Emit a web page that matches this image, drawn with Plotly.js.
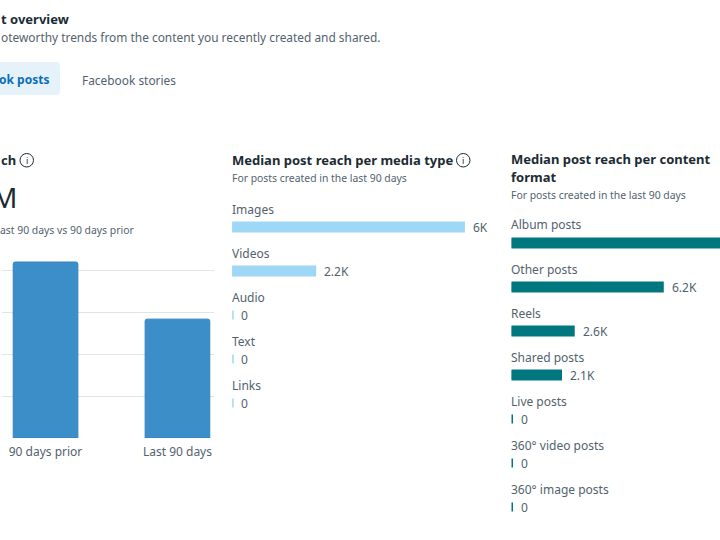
<!DOCTYPE html>
<html><head><meta charset="utf-8">
<script src="https://cdn.plot.ly/plotly-3.0.1.min.js"></script>
<style>html,body{margin:0;padding:0;background:#fff;overflow:hidden}</style>
</head><body><div id="chart" style="width:720px;height:540px"></div>
<script>
const periodCats = ['90 days prior', 'Last 90 days'];
const periodVals = [4.19, 2.83];
const mediaCats = ['Images', 'Videos', 'Audio', 'Text', 'Links'];
const mediaVals = [6, 2.15, 0, 0, 0];
const mediaLabels = ['6K', '2.2K', '0', '0', '0'];
const formatCats = ['Album posts', 'Other posts', 'Reels', 'Shared posts', 'Live posts', '360° video posts', '360° image posts'];
const formatVals = [9.5, 6.2, 2.55, 2.03, 0, 0, 0];
const formatLabels = ['', '6.2K', '2.6K', '2.1K', '0', '0', '0'];

const FONT = '"Noto Sans", "Open Sans", sans-serif';
const DARK = '#1c2b33', GREY = '#52626e', BLUE = '#3b8ec8', LIGHT = '#9fd7f7', TEAL = '#00777e';
const W = 720, H = 540;
const px = x => x / W, py = y => 1 - y / H;

function txt(x, y, text, size, color, bold, extra) {
  return Object.assign({
    xref: 'paper', yref: 'paper', x: px(x), y: py(y), text: bold ? '<b>' + text + '</b>' : text,
    showarrow: false, xanchor: 'left', yanchor: 'middle', borderpad: 0,
    font: { family: FONT, size: size, color: color }
  }, extra || {});
}
function rowAnns(xa, ya, cats, vals, labels) {
  const out = [];
  cats.forEach((c, i) => {
    out.push({ xref: xa, yref: ya, x: 0, y: c, text: c, showarrow: false, xanchor: 'left', yanchor: 'middle',
      xshift: -1.5, yshift: 18, borderpad: 0, font: { family: FONT, size: 12, color: GREY } });
    if (labels[i]) out.push({ xref: xa, yref: ya, x: vals[i], y: c, text: labels[i], showarrow: false, xanchor: 'left', yanchor: 'middle',
      xshift: 8, borderpad: 0, font: { family: FONT, size: 12, color: GREY } });
  });
  return out;
}
const hBar = (cats, vals, color, xa, ya) => ({
  type: 'bar', orientation: 'h', y: cats, x: vals, xaxis: xa, yaxis: ya, width: 0.2,
  marker: { color: color, line: { color: color, width: vals.map(v => v === 0 ? 3 : 2) } },
  hoverinfo: 'skip', cliponaxis: true
});
const hidden = { showgrid: false, zeroline: false, showticklabels: false, ticks: '', showline: false, fixedrange: true };

const data = [
  { type: 'bar', x: periodCats, y: periodVals, xaxis: 'x', yaxis: 'y', width: 0.49,
    marker: { color: BLUE, line: { color: '#2f85c0', width: 1 }, cornerradius: 2 }, hoverinfo: 'skip' },
  hBar(mediaCats, mediaVals, LIGHT, 'x2', 'y2'),
  hBar(formatCats, formatVals, TEAL, 'x3', 'y3')
];

const layout = {
  width: W, height: H, autosize: false, showlegend: false,
  margin: { l: 0, r: 0, t: 0, b: 0, pad: 0 }, paper_bgcolor: '#fff', plot_bgcolor: 'rgba(0,0,0,0)',
  xaxis: { type: 'category', domain: [px(2), px(214)], range: [-0.33, 1.277], showgrid: false, zeroline: false, showline: false,
    ticks: 'outside', ticklen: 3, tickcolor: 'rgba(0,0,0,0)', tickfont: { family: FONT, size: 12, color: GREY }, fixedrange: true },
  yaxis: { domain: [py(438), py(258)], range: [0, 4.2857], dtick: 1, tick0: 0, gridcolor: '#e2e3e4', gridwidth: 1, zeroline: false,
    showticklabels: false, ticks: '', showline: false, fixedrange: true },
  xaxis2: Object.assign({ domain: [px(232.2), px(500)], range: [0, 6.935], anchor: 'y2' }, hidden),
  yaxis2: Object.assign({ type: 'category', domain: [py(425), py(205)], range: [4.5, -0.5], anchor: 'x2' }, hidden),
  xaxis3: Object.assign({ domain: [px(511.5), 1], range: [0, 8.545], anchor: 'y3' }, hidden),
  yaxis3: Object.assign({ type: 'category', domain: [py(529), py(221)], range: [6.5, -0.5], anchor: 'x3' }, hidden),
  shapes: [
    { type: 'path', xref: 'paper', yref: 'paper', layer: 'below', fillcolor: '#e6f2fa', line: { width: 0 },
      path: `M ${px(-10)} ${py(62)} L ${px(56)} ${py(62)} Q ${px(60)} ${py(62)} ${px(60)} ${py(66)} L ${px(60)} ${py(91)} Q ${px(60)} ${py(95)} ${px(56)} ${py(95)} L ${px(-10)} ${py(95)} Z` },
    { type: 'circle', xref: 'paper', yref: 'paper', x0: px(20), x1: px(33.5), y0: py(167), y1: py(153.5), line: { color: DARK, width: 1 } },
    { type: 'circle', xref: 'paper', yref: 'paper', x0: px(456.5), x1: px(470), y0: py(167), y1: py(153.5), line: { color: DARK, width: 1 } }
  ],
  annotations: [
    txt(0, 19, 't overview', 13, DARK, true),
    txt(0, 37, 'oteworthy trends from the content you recently created and shared.', 11.9, GREY),
    txt(-2, 79.5, 'ok posts', 12, '#0a6fb8', true),
    txt(81, 79.5, 'Facebook stories', 11.9, GREY),
    txt(0, 160, 'ch', 13, DARK, true),
    txt(26.75, 160.5, 'i', 9, DARK, false, { xanchor: 'center' }),
    txt(-9, 197, 'M', 28, DARK),
    txt(-1, 230, 'ast 90 days vs 90 days prior', 10.4, GREY),
    txt(230.5, 160, 'Median post reach per media type', 13, DARK, true),
    txt(463.25, 160.5, 'i', 9, DARK, false, { xanchor: 'center' }),
    txt(230.5, 178, 'For posts created in the last 90 days', 10.4, GREY),
    txt(509.5, 159, 'Median post reach per content', 13, DARK, true),
    txt(509.5, 177, 'format', 13, DARK, true),
    txt(509.5, 195, 'For posts created in the last 90 days', 10.4, GREY)
  ].concat(rowAnns('x2', 'y2', mediaCats, mediaVals, mediaLabels), rowAnns('x3', 'y3', formatCats, formatVals, formatLabels))
};
Plotly.newPlot('chart', data, layout, { displayModeBar: false, staticPlot: true });
</script></body></html>
